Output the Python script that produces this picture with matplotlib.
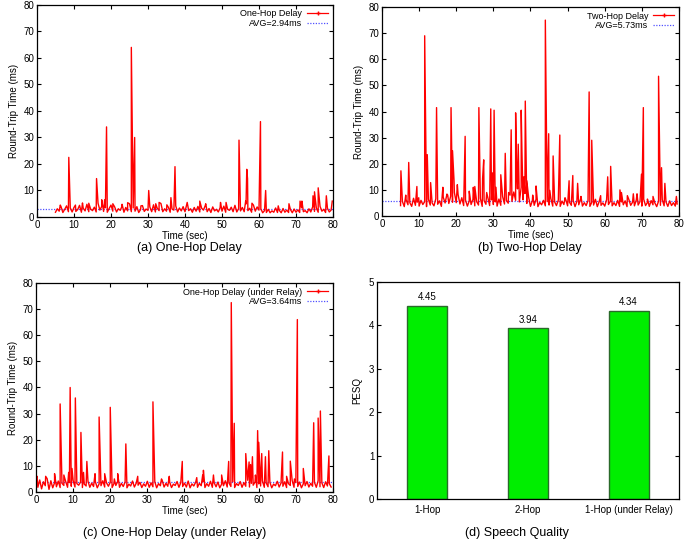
import numpy as np
import matplotlib
matplotlib.use("Agg")
import matplotlib.pyplot as plt
from matplotlib.lines import Line2D

plt.rcParams['font.family'] = ['Liberation Sans', 'DejaVu Sans']

# ---- (a) one-hop delay: baseline every 0.5 s from 5 s, plus spikes ----
a_start = 5.0
a_base = [
    1.8, 3.1, 2.2, 3.9, 1.7, 2.9, 4.2, 2.0, 3.4, 1.9,
    3.6, 2.1, 2.8, 4.4, 1.8, 3.3, 2.3, 4.8, 2.0, 3.0,
    2.4, 3.7, 1.9, 5.2, 2.6, 4.0, 2.1, 3.5, 1.8, 3.2,
    4.5, 2.2, 3.8, 1.9, 3.1, 2.5, 4.1, 1.8, 3.6, 2.3,
    5.0, 2.0, 3.4, 2.2, 3.9, 1.7, 2.8, 4.3, 2.1, 3.0,
    2.5, 3.8, 2.0, 4.6, 1.9, 3.3, 2.4, 5.1, 2.0, 3.1,
    2.2, 3.7, 1.8, 3.0, 2.6, 4.2, 1.9, 3.4, 2.3, 3.9,
    2.0, 4.8, 2.4, 3.1, 1.8, 3.6, 2.2, 4.0, 1.9, 3.3,
    2.6, 4.4, 2.0, 3.2, 1.7, 3.8, 2.3, 2.9, 1.9, 3.5,
    2.2, 4.1, 1.8, 3.0, 2.5, 3.7, 2.0, 4.4, 1.9, 3.2,
    2.3, 3.6, 2.0, 4.9, 2.4, 3.3, 1.8, 4.5, 2.2, 3.8,
    2.6, 3.1, 1.6, 2.4, 1.7, 2.9, 1.6, 2.3, 1.8, 3.4,
    1.7, 2.5, 1.6, 3.2, 1.8, 2.6, 1.7, 2.8, 1.6, 3.0,
    1.8, 2.7, 1.7, 3.5, 2.0, 2.4, 1.6, 3.1, 1.9, 3.8,
    2.1, 3.4, 1.8, 4.0, 2.2, 2.9, 1.7, 3.3, 1.9, 2.6,
]
a_spike_t = [6.3, 8.6, 10.4, 12.3, 14.0, 16.1, 17.5, 18.3, 18.8, 20.5, 23.0,
             24.5, 25.5, 26.4, 28.1, 30.2, 32.1, 33.0, 35.1, 36.2, 37.3,
             40.6, 44.0, 45.6, 49.6, 51.1, 54.6, 56.4, 56.7, 56.9, 58.1,
             60.4, 61.8, 65.2, 68.1, 71.1, 71.6, 74.6, 75.0, 76.0, 78.2, 79.8]
a_spike_v = [4.5, 22.5, 4.5, 5.3, 5.2, 14.5, 6.5, 6.5, 34.0, 5.0, 4.8,
             5.4, 64.0, 30.0, 4.2, 10.0, 5.0, 5.5, 4.6, 7.3, 19.0,
             5.5, 6.0, 5.0, 5.5, 5.5, 29.0, 6.0, 18.0, 14.5, 5.2,
             36.0, 10.0, 4.2, 5.0, 6.0, 6.0, 8.0, 9.5, 11.0, 8.0, 6.0]

# ---- (b) two-hop delay ----
b_start = 5.0
b_base = [
    4.0, 5.6, 3.6, 6.2, 4.3, 5.1, 3.7, 6.8, 4.1, 5.3,
    3.8, 6.0, 4.4, 5.5, 3.6, 6.4, 4.2, 5.0, 3.9, 6.6,
    4.5, 5.8, 3.7, 7.2, 5.0, 8.4, 4.8, 7.6, 5.3, 9.0,
    5.1, 8.2, 4.6, 7.0, 4.0, 6.1, 3.8, 5.7, 4.4, 6.3,
    3.9, 5.5, 4.2, 6.7, 3.7, 5.9, 4.5, 7.1, 4.0, 6.2,
    4.4, 5.4, 3.8, 6.5, 4.1, 7.4, 4.6, 6.0, 4.9, 8.0,
    5.6, 9.2, 6.0, 10.4, 5.4, 11.0, 6.2, 8.6, 4.8, 7.2,
    3.7, 5.8, 4.1, 6.4, 3.6, 5.2, 4.3, 6.0, 3.9, 5.5,
    4.2, 6.6, 3.8, 5.4, 4.0, 6.1, 3.7, 5.7, 4.4, 6.3,
    3.9, 5.3, 4.1, 6.0, 3.6, 5.6, 4.3, 6.5, 3.8, 5.1,
    4.0, 5.9, 3.7, 5.2, 4.2, 6.4, 3.6, 5.5, 4.1, 5.0,
    3.8, 6.2, 4.4, 5.6, 3.9, 5.1, 4.0, 6.0, 3.7, 5.4,
    4.3, 5.8, 3.6, 6.3, 4.1, 5.3, 3.9, 6.1, 4.2, 5.5,
    3.8, 6.4, 4.0, 5.2, 3.7, 5.9, 4.3, 5.0, 3.6, 5.7,
    4.1, 6.2, 3.9, 5.4, 3.7, 5.8, 4.0, 5.1, 3.8, 4.6,
]
b_spike_t = [5.1, 6.4, 7.2, 9.4, 9.9, 11.5, 12.2, 13.1, 14.7, 16.4, 17.7,
             18.6, 19.0, 19.4, 20.3, 22.4, 23.5, 24.6, 25.0, 26.1, 27.1,
             27.4, 28.2, 29.3, 29.8, 30.2, 30.7, 32.0, 33.2, 34.1, 34.8,
             36.0, 36.3, 36.7, 37.5, 37.7, 38.2, 38.6, 39.0, 40.6, 41.5,
             44.0, 44.9, 45.2, 46.1, 47.9, 49.3, 50.4, 51.4, 52.7, 53.6,
             55.8, 56.5, 58.9, 60.8, 61.6, 64.1, 64.5, 66.1, 67.7, 68.7,
             69.9, 70.4, 71.5, 73.0, 74.5, 75.3, 76.2, 79.3]
b_spike_v = [17.3, 8.0, 20.5, 11.3, 7.0, 69.0, 23.5, 12.8, 41.5, 11.0, 8.0,
             41.5, 25.0, 13.8, 12.0, 30.5, 9.5, 11.0, 11.3, 41.5, 14.3,
             21.5, 9.0, 41.0, 16.5, 40.5, 11.0, 15.8, 24.0, 9.0, 33.0,
             39.5, 16.0, 27.5, 40.5, 24.5, 15.0, 44.0, 13.5, 8.0, 11.5,
             75.0, 31.5, 9.8, 23.0, 31.0, 7.0, 13.5, 15.5, 12.5, 7.5,
             47.5, 29.0, 7.8, 15.0, 19.0, 10.0, 9.0, 7.8, 8.5, 8.5,
             16.0, 41.5, 6.5, 7.5, 53.5, 18.5, 12.5, 7.5]

# ---- (c) one-hop delay under relay ----
c_start = 0.0
c_base = [
    5.5, 1.8, 4.6, 1.2, 3.9, 2.4, 5.1, 1.0, 4.3, 1.6,
    3.5, 2.0, 4.2, 1.7, 3.3, 2.5, 4.0, 1.8, 3.6, 2.2,
    4.4, 1.9, 3.2, 2.6, 3.8, 1.7, 3.0, 2.3, 4.1, 1.8,
    3.4, 2.1, 3.9, 1.6, 3.1, 2.4, 4.3, 1.9, 3.5, 2.2,
    3.7, 1.7, 3.2, 2.5, 4.0, 1.8, 3.3, 2.1, 3.8, 1.6,
    3.0, 2.3, 4.2, 1.9, 3.4, 2.6, 3.7, 1.7, 3.1, 2.2,
    4.1, 1.8, 3.5, 2.0, 3.9, 1.6, 3.2, 2.4, 4.4, 1.9,
    3.3, 2.2, 3.8, 1.7, 3.0, 2.5, 4.0, 1.8, 3.6, 2.1,
    3.4, 1.9, 4.2, 1.6, 3.1, 2.3, 3.7, 1.8, 3.3, 2.4,
    3.9, 1.7, 3.2, 2.2, 4.1, 1.8, 3.5, 2.0, 3.8, 1.6,
    3.0, 2.4, 4.3, 1.9, 3.4, 2.1, 3.9, 1.7, 3.2, 2.5,
    4.0, 1.8, 3.6, 2.2, 4.5, 1.9, 3.3, 2.6, 3.8, 1.7,
    3.1, 2.3, 4.2, 1.8, 3.5, 2.0, 3.7, 1.6, 3.0, 2.4,
    4.1, 1.9, 3.4, 2.2, 3.9, 1.7, 3.2, 2.5, 4.4, 1.8,
    3.6, 2.1, 3.8, 1.6, 3.1, 2.4, 4.0, 1.9, 3.3, 2.2,
    3.7, 1.8, 4.3, 2.0, 3.5, 1.7, 3.9, 2.3, 3.2, 1.9,
]
c_spike_t = [0.3, 2.6, 5.0, 6.5, 7.5, 8.8, 9.2, 9.7, 10.6, 12.1, 12.8,
             13.7, 15.9, 17.0, 18.5, 20.0, 21.1, 22.0, 24.2, 27.4, 31.5,
             33.8, 35.9, 39.4, 43.3, 44.9, 45.1, 47.8, 50.0, 51.9, 52.6,
             53.4, 56.5, 57.4, 57.8, 58.3, 59.1, 59.7, 60.0, 60.8, 61.8,
             62.7, 66.4, 67.5, 68.5, 69.6, 70.4, 72.0, 74.8, 76.0, 76.6,
             78.9]
c_spike_v = [6.0, 6.0, 7.0, 33.7, 6.5, 7.5, 40.0, 9.0, 36.0, 22.8, 7.5,
             11.7, 7.0, 28.7, 7.0, 32.4, 5.0, 7.0, 18.4, 6.0, 34.5,
             5.0, 6.0, 11.7, 5.5, 6.5, 8.3, 6.5, 6.5, 11.7, 72.5,
             26.3, 14.7, 11.5, 10.5, 13.5, 6.5, 23.5, 19.0, 14.7, 13.5,
             15.8, 15.3, 6.0, 11.8, 5.0, 66.0, 9.0, 26.5, 28.3, 31.0,
             13.8]

avg_values = [2.94, 5.73, 3.64]
series_labels = ["One-Hop Delay", "Two-Hop Delay", "One-Hop Delay (under Relay)"]
captions = ["(a) One-Hop Delay", "(b) Two-Hop Delay",
            "(c) One-Hop Delay (under Relay)", "(d) Speech Quality"]

# ---- (d) speech quality ----
bar_labels = ["1-Hop", "2-Hop", "1-Hop (under Relay)"]
pesq = [4.45, 3.94, 4.34]


def build(start, base, spike_t, spike_v):
    t = np.concatenate([start + 0.5 * np.arange(len(base)), spike_t])
    v = np.concatenate([base, spike_v])
    order = np.argsort(t, kind="stable")
    return t[order], v[order]


fig = plt.figure(figsize=(6.91, 5.41), dpi=100)

axes_pos = [
    [0.0535, 0.5989, 0.4284, 0.3919],
    [0.5528, 0.6007, 0.4298, 0.3863],
    [0.0521, 0.0906, 0.4298, 0.3863],
]
series = [
    build(a_start, a_base, a_spike_t, a_spike_v),
    build(b_start, b_base, b_spike_t, b_spike_v),
    build(c_start, c_base, c_spike_t, c_spike_v),
]

for pos, (t, v), avg, lab in zip(axes_pos, series, avg_values, series_labels):
    ax = fig.add_axes(pos)
    ax.plot(t, v, color='#ff0000', lw=1.0)
    ax.axhline(avg, color='#5050ff', lw=0.9, ls=(0, (1, 1.2)), zorder=1.5)
    ax.set_xlim(0, 80)
    ax.set_ylim(0, 80)
    ax.set_xticks(range(0, 81, 10))
    ax.set_yticks(range(0, 81, 10))
    ax.tick_params(direction='in', top=True, right=True, length=3,
                   labelsize=7, pad=2, width=0.8)
    ax.set_xlabel("Time (sec)", fontsize=7, labelpad=1)
    ax.set_ylabel("Round-Trip Time (ms)", fontsize=7, labelpad=3)
    for s in ax.spines.values():
        s.set_linewidth(0.9)
    handles = [Line2D([], [], color='#ff0000', lw=0.9, marker='+', ms=2.5),
               Line2D([], [], color='#5050ff', lw=0.9, ls=(0, (1, 1.2)))]
    ax.legend(handles, [lab, "AVG=%.2fms" % avg], loc='upper right',
              frameon=False, fontsize=6.5, markerfirst=False,
              handlelength=2.4, handletextpad=0.5, labelspacing=0.1,
              borderaxespad=0.3, borderpad=0.2)

# bar chart
axd = fig.add_axes([0.5456, 0.0776, 0.4370, 0.4011])
x = np.arange(len(pesq))
axd.bar(x, pesq, width=0.4, color='#00ee00', edgecolor='#2a6a2a', lw=1)
for xi, val in zip(x, pesq):
    axd.text(xi, val + 0.08, "%.2f" % val, ha='center', va='bottom', fontsize=7)
axd.set_xlim(-0.5, 2.5)
axd.set_ylim(0, 5)
axd.set_xticks(x)
axd.set_xticklabels(bar_labels)
axd.set_yticks(range(0, 6))
axd.tick_params(axis='y', direction='in', right=True, length=3, labelsize=7, pad=2)
axd.tick_params(axis='x', length=0, labelsize=7, pad=4)
axd.set_ylabel("PESQ", fontsize=7, labelpad=5)
for s in axd.spines.values():
    s.set_linewidth(0.9)

cap_xy = [(0.2735, 1 - 248 / 541), (0.7670, 1 - 248 / 541),
          (0.2533, 1 - 533 / 541), (0.7482, 1 - 533 / 541)]
for (cx, cy), cap in zip(cap_xy, captions):
    fig.text(cx, cy, cap, ha='center', va='center', fontsize=9)

fig.savefig("out.png", dpi=100)
